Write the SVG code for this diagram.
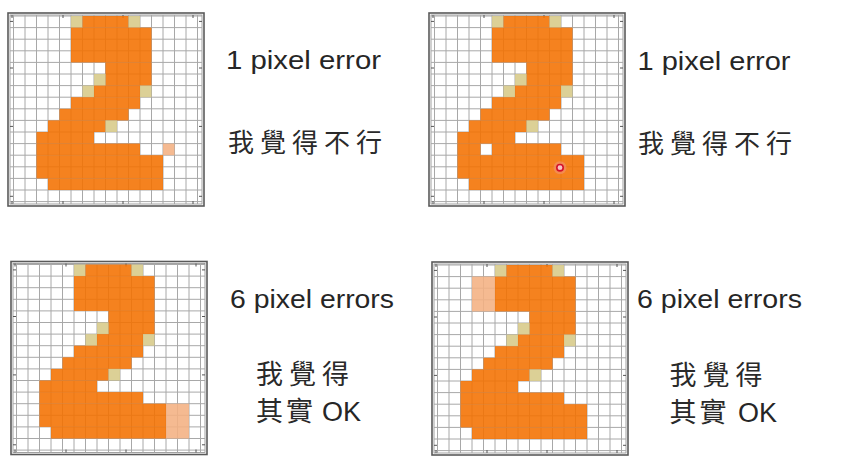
<svg xmlns="http://www.w3.org/2000/svg" width="854" height="462" viewBox="0 0 854 462">
<style>
.o{fill:#f47100;fill-opacity:.88}
.l{fill:#d7ca87;fill-opacity:.88}
.p{fill:#f4b082;fill-opacity:.88}
.grid{fill:none;stroke:#a8a8a8;stroke-width:1}
.outer{fill:#fff;stroke:#5a5a5a;stroke-width:1.6}
.inner{fill:none;stroke:#8a8a8a;stroke-width:.8}
.tick{fill:none;stroke:#555;stroke-width:1}
.en{font-family:"Liberation Sans",Arial,sans-serif;font-size:26.5px;fill:#262626}
.zh{font-family:"Noto Sans CJK TC","Noto Sans CJK SC",sans-serif;font-size:26px;fill:#2a2a2a;letter-spacing:6px}
.zh2{font-family:"Noto Sans CJK TC","Noto Sans CJK SC",sans-serif;font-size:27px;fill:#2a2a2a;letter-spacing:6px}
.ok{font-family:"Liberation Sans",Arial,sans-serif;font-size:27px;fill:#262626;letter-spacing:0}
</style>
<defs>
<g id="frame">
<rect class="outer" x="-5.5" y="-3" width="196" height="193"/>
<rect class="inner" x="-3.5" y="-1" width="192" height="189"/>
<path class="grid" d="M0 -1V188M11.5 -1V188M23 -1V188M34.5 -1V188M46 -1V188M57.5 -1V188M69 -1V188M80.5 -1V188M92 -1V188M103.5 -1V188M115 -1V188M126.5 -1V188M138 -1V188M149.5 -1V188M161 -1V188M172.5 -1V188M184 -1V188M-3.5 0H188.5M-3.5 11.6H188.5M-3.5 23.2H188.5M-3.5 34.8H188.5M-3.5 46.4H188.5M-3.5 58H188.5M-3.5 69.6H188.5M-3.5 81.2H188.5M-3.5 92.8H188.5M-3.5 104.4H188.5M-3.5 116H188.5M-3.5 127.6H188.5M-3.5 139.2H188.5M-3.5 150.8H188.5M-3.5 162.4H188.5M-3.5 174H188.5M-3.5 185.6H188.5"/>
<path class="tick" d="M-1.5 -1V2M49.5 -1V2M109.5 -1V2M179.5 -1V2M-1.5 188V185M49.5 188V185M109.5 188V185M179.5 188V185M-3.5 5.4H-0.5M-3.5 52H-0.5M-3.5 110.4H-0.5M-3.5 180.3H-0.5M188.5 5.4H185.5M188.5 52H185.5M188.5 110.4H185.5M188.5 180.3H185.5"/>
</g>
<g id="digit" transform="scale(11.5 11.6)">
<rect class="l" x="5" y="0" width="1" height="1"/>
<rect class="o" x="6" y="0" width="4" height="1"/>
<rect class="l" x="10" y="0" width="1" height="1"/>
<rect class="o" x="5" y="1" width="7" height="3"/>
<rect class="o" x="8" y="4" width="4" height="2"/>
<rect class="l" x="7" y="5" width="1" height="1"/>
<rect class="l" x="6" y="6" width="1" height="1"/>
<rect class="o" x="7" y="6" width="4" height="1"/>
<rect class="l" x="11" y="6" width="1" height="1"/>
<rect class="o" x="5" y="7" width="6" height="1"/>
<rect class="o" x="4" y="8" width="6" height="1"/>
<rect class="o" x="3" y="9" width="5" height="1"/>
<rect class="l" x="8" y="9" width="1" height="1"/>
<rect class="o" x="2" y="10" width="5" height="1"/>
<rect class="o" x="2" y="12" width="11" height="2"/>
<rect class="o" x="3" y="14" width="10" height="1"/>
</g>
</defs>

<g id="grid-top-left" transform="translate(13.5 16)">
<use href="#frame"/>
<use href="#digit"/>
<g transform="scale(11.5 11.6)">
<rect class="o" x="2" y="11" width="9" height="1"/>
<rect class="p" x="13" y="11" width="1" height="1"/>
</g>
</g>

<g id="grid-top-right" transform="translate(434.5 16)">
<use href="#frame"/>
<use href="#digit"/>
<g transform="scale(11.5 11.6)">
<rect class="o" x="2" y="11" width="2" height="1"/>
<rect class="o" x="5" y="11" width="6" height="1"/>
</g>
</g>

<g id="pointer">
<circle cx="560" cy="167.7" r="6.5" fill="#f39a9a" opacity=".4"/>
<circle cx="560" cy="167.7" r="3.2" fill="#f7c4c4" stroke="#d4102b" stroke-width="1.6"/>
</g>

<g id="grid-bottom-left" transform="translate(16.5 264.5)">
<use href="#frame"/>
<use href="#digit"/>
<g transform="scale(11.5 11.6)">
<rect class="o" x="2" y="11" width="9" height="1"/>
<rect class="p" x="13" y="12" width="2" height="3"/>
</g>
</g>

<g id="grid-bottom-right" transform="translate(437.5 265)">
<use href="#frame"/>
<use href="#digit"/>
<g transform="scale(11.5 11.6)">
<rect class="o" x="2" y="11" width="9" height="1"/>
<rect class="p" x="3" y="1" width="2" height="3"/>
</g>
</g>

<g id="label-top-left">
<text class="en" x="226" y="68.5" textLength="155" lengthAdjust="spacingAndGlyphs">1 pixel error</text>
<text class="zh" x="228" y="152">我覺得不行</text>
</g>
<g id="label-top-right">
<text class="en" x="637.5" y="70" textLength="153" lengthAdjust="spacingAndGlyphs">1 pixel error</text>
<text class="zh" x="638" y="153">我覺得不行</text>
</g>
<g id="label-bottom-left">
<text class="en" x="230" y="308.3" textLength="164" lengthAdjust="spacingAndGlyphs">6 pixel errors</text>
<text class="zh2" x="256" y="384">我覺得</text>
<text class="zh2" x="256" y="420.5"><tspan style="letter-spacing:3px">其實</tspan><tspan class="ok" x="314.5"> OK</tspan></text>
</g>
<g id="label-bottom-right">
<text class="en" x="637" y="308.3" textLength="165" lengthAdjust="spacingAndGlyphs">6 pixel errors</text>
<text class="zh2" x="669.5" y="385">我覺得</text>
<text class="zh2" x="669.5" y="421.5"><tspan style="letter-spacing:3px">其實</tspan><tspan class="ok" x="730.5"> OK</tspan></text>
</g>
</svg>
